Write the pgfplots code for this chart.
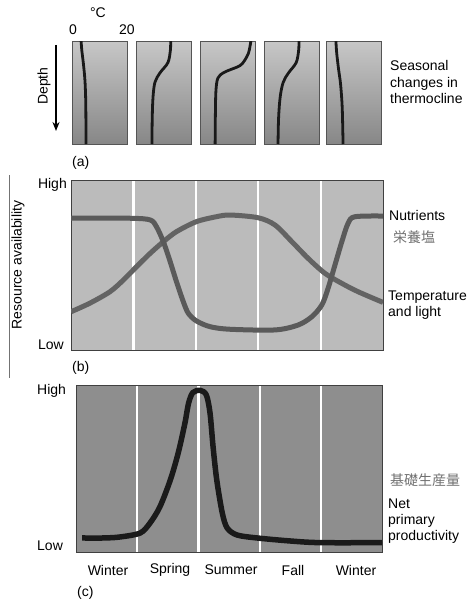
\documentclass[border=0pt]{standalone}
\usepackage{fontspec}
\setmainfont{Liberation Sans}
\setsansfont{Liberation Sans}
\newfontfamily\cjk{Noto Sans CJK JP}
\usepackage{pgfplots}
\pgfplotsset{compat=1.18}
\usetikzlibrary{arrows.meta}
\definecolor{boxedge}{HTML}{555555}
\definecolor{bgb}{HTML}{BBBBBB}
\definecolor{bgc}{HTML}{8E8E8E}
\definecolor{nutr}{HTML}{5A5A5A}
\definecolor{templ}{HTML}{636363}
\definecolor{npp}{HTML}{1A1A1A}
\definecolor{jp}{HTML}{707070}
\pgfplotsset{
  thermo/.style={
    scale only axis, width=55pt, height=103pt,
    xmin=0, xmax=20, ymin=0, ymax=1, y dir=reverse,
    xtick=\empty, ytick=\empty,
    axis line style={boxedge, line width=0.9pt},
    axis background/.style={top color=black!22, bottom color=black!47},
    anchor=north west,
  },
  tcurve/.style={black!90, line width=2.8pt, smooth, tension=0.55},
}
\begin{document}
\fontsize{14}{16}\selectfont
\begin{tikzpicture}
\path[use as bounding box] (0pt,0pt) rectangle (474pt,-602pt);

% ---------- panel (a) ----------
\begin{axis}[thermo, at={(72pt,-41pt)}]
\addplot[tcurve] coordinates {(3.3,0) (3.6,0.1) (4.1,0.21) (4.7,0.38) (5.0,0.6) (5.1,1)};
\end{axis}
\begin{axis}[thermo, at={(136pt,-41pt)}]
\addplot[tcurve] coordinates {(12.6,0) (12.5,0.09) (11.6,0.21) (8.7,0.31) (6.9,0.4) (6.2,0.54) (5.9,0.75) (5.8,1)};
\end{axis}
\begin{axis}[thermo, at={(200pt,-41pt)}]
\addplot[tcurve] coordinates {(18.5,0) (18.2,0.05) (17.6,0.12) (16.2,0.19) (14.5,0.24) (10.9,0.28) (8.4,0.31) (6.5,0.36) (5.8,0.48) (5.6,0.7) (5.5,1)};
\end{axis}
\begin{axis}[thermo, at={(264pt,-41pt)}]
\addplot[tcurve] coordinates {(12.7,0) (12.6,0.09) (11.7,0.21) (8.9,0.31) (7.0,0.4) (5.9,0.54) (5.3,0.75) (5.1,1)};
\end{axis}
\begin{axis}[thermo, at={(326pt,-41pt)}]
\addplot[tcurve] coordinates {(3.6,0) (3.9,0.12) (4.6,0.28) (5.3,0.42) (5.9,0.65) (6.2,1)};
\end{axis}

\node at (98pt,-13pt) {°C};
\node at (73pt,-30pt) {0};
\node at (127pt,-30pt) {20};
\draw[black, line width=1.6pt, -{Stealth[length=9pt,width=7pt]}] (56pt,-45pt) -- (56pt,-131pt);
\node[rotate=90] at (44pt,-86pt) {Depth};
\node[anchor=west, align=left, inner sep=0pt, font=\fontsize{14}{16.5}\selectfont] at (390pt,-82pt) {Seasonal\\changes in\\thermocline};
\node[anchor=west, inner sep=0pt] at (72pt,-163pt) {(a)};

% ---------- panel (b) ----------
\begin{axis}[
  at={(71pt,-180pt)}, anchor=north west,
  scale only axis, width=312pt, height=170pt,
  xmin=0, xmax=5, ymin=0, ymax=1,
  xtick={1,2,3,4}, xticklabels={}, ytick=\empty,
  major tick length=0pt,
  xmajorgrids, grid style={white, line width=2.2pt},
  axis line style={black!75, line width=0.9pt},
  axis background/.style={fill=bgb},
]
\addplot[templ, line width=5pt, smooth, tension=0.5] coordinates {
(0,0.225) (0.30,0.275) (0.625,0.343) (0.84,0.412) (1.05,0.49) (1.27,0.569) (1.48,0.637) (1.69,0.696) (2.01,0.755) (2.33,0.784) (2.55,0.794) (3.00,0.778) (3.27,0.735) (3.54,0.637) (3.80,0.539) (4.07,0.451) (4.34,0.392) (4.60,0.343) (5,0.28)};
\addplot[nutr, line width=5pt, smooth, tension=0.5] coordinates {
(0,0.775) (0.95,0.775) (1.27,0.765) (1.37,0.725) (1.48,0.637) (1.59,0.519) (1.69,0.402) (1.80,0.284) (1.88,0.216) (2.01,0.171) (2.23,0.137) (2.55,0.122) (3.27,0.118) (3.64,0.147) (3.86,0.196) (4.02,0.265) (4.12,0.363) (4.23,0.50) (4.34,0.637) (4.44,0.745) (4.55,0.784) (5,0.788)};
\end{axis}
\node[anchor=east, inner sep=0pt] at (67pt,-185pt) {High};
\node[anchor=east, inner sep=0pt] at (64pt,-345pt) {Low};
\node[anchor=west, inner sep=0pt] at (72pt,-368pt) {(b)};
\node[rotate=90] at (18pt,-265pt) {Resource availability};
\draw[black!55, line width=0.6pt] (9pt,-175pt) -- (9pt,-378pt);
\node[anchor=west, inner sep=0pt] at (389pt,-215pt) {Nutrients};
\node[anchor=west, inner sep=0pt, text=jp] at (393pt,-237pt) {\cjk\fontsize{14}{16}\selectfont 栄養塩};
\node[anchor=west, align=left, inner sep=0pt, font=\fontsize{14}{16}\selectfont] at (388pt,-305pt) {Temperature\\and light};

% ---------- panel (c) ----------
\begin{axis}[
  at={(76pt,-385pt)}, anchor=north west,
  scale only axis, width=306pt, height=167pt,
  xmin=0, xmax=5, ymin=0, ymax=1,
  xtick={1,2,3,4}, xticklabels={}, ytick=\empty,
  major tick length=0pt,
  xmajorgrids, grid style={white, line width=2.2pt},
  axis line style={black!75, line width=0.9pt},
  axis background/.style={fill=bgc},
]
\addplot[npp, line width=5.5pt, smooth, tension=0.5] coordinates {
(0.1,0.084) (0.45,0.084) (0.72,0.09) (1.05,0.114) (1.21,0.174) (1.37,0.27) (1.54,0.43) (1.67,0.593) (1.78,0.772) (1.84,0.892) (1.91,0.955) (2.03,0.968) (2.13,0.94) (2.19,0.832) (2.24,0.629) (2.30,0.431) (2.39,0.234) (2.47,0.144) (2.63,0.102) (2.96,0.084) (3.5,0.066) (3.99,0.056) (5,0.056)};
\end{axis}
\node[anchor=west, inner sep=0pt] at (37pt,-391pt) {High};
\node[anchor=west, inner sep=0pt] at (37pt,-546pt) {Low};
\node at (108pt,-570pt) {Winter};
\node at (170pt,-570pt) {Spring};
\node at (231pt,-570pt) {Summer};
\node at (293pt,-570pt) {Fall};
\node at (356pt,-570pt) {Winter};
\node[anchor=west, inner sep=0pt] at (77pt,-593pt) {(c)};
\node[anchor=west, inner sep=0pt, text=jp] at (390pt,-480pt) {\cjk\fontsize{14}{16}\selectfont 基礎生産量};
\node[anchor=west, align=left, inner sep=0pt, font=\fontsize{14}{16}\selectfont] at (388pt,-521pt) {Net\\primary\\productivity};
\end{tikzpicture}
\end{document}
